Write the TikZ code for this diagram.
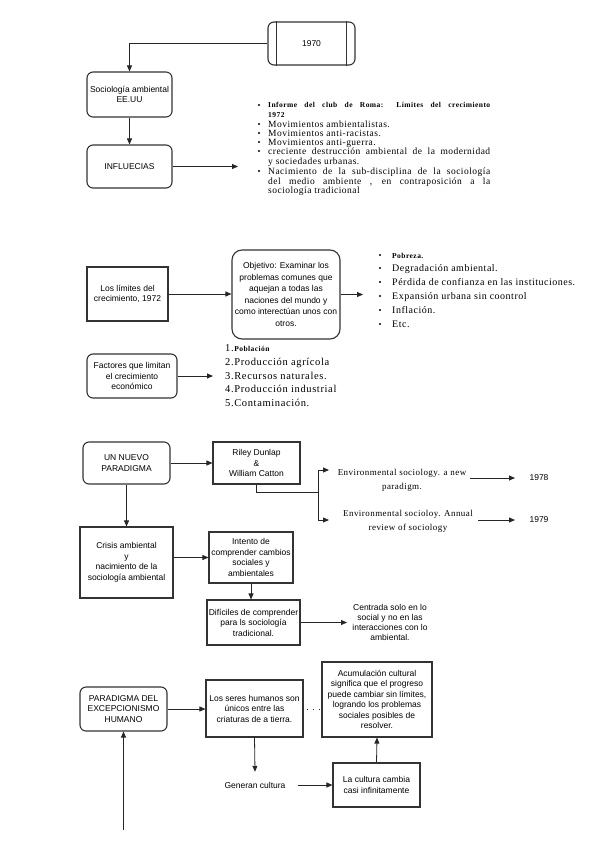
\documentclass[tikz,border=0pt]{standalone}
\usepackage{fontspec}
\setmainfont{Liberation Serif}
\setsansfont{Liberation Sans}
\newfontfamily\lsf[LetterSpace=5]{Liberation Serif}
\newfontfamily\lsfb[LetterSpace=6]{Liberation Serif}
\usetikzlibrary{arrows.meta}
\begin{document}
\begin{tikzpicture}[x=1pt,y=-1pt,
  box/.style={draw=black!80, line width=1.1pt, font=\sffamily\fontsize{8.5}{10.5}\selectfont, align=center, inner sep=1pt},
  rbox/.style={box, rounded corners=6pt},
  arr/.style={-{Triangle[length=6pt,width=5pt]}, line width=0.8pt, draw=black!85},
  ln/.style={line width=0.8pt, draw=black!85},
  itm/.style={anchor=base west, inner sep=0pt, font=\lsf\fontsize{9.5}{11}\selectfont},
  itmb/.style={anchor=base west, inner sep=0pt, font=\lsfb\bfseries\fontsize{7.5}{9}\selectfont},
  itm2/.style={anchor=base west, inner sep=0pt, font=\lsf\fontsize{10}{12}\selectfont},
  itm3/.style={anchor=base west, inner sep=0pt, font=\lsfb\fontsize{10.5}{12}\selectfont},
  plain/.style={inner sep=0pt, align=center, font=\sffamily\fontsize{8.5}{10.5}\selectfont},
  envt/.style={inner sep=0pt, align=center, font=\lsf\fontsize{9}{14}\selectfont},
  bul/.style={fill=black}
]
\useasboundingbox (0,0) rectangle (599,848);

% ---------- top block ----------
\node[rbox, minimum width=87pt, minimum height=43pt] (y1970) at (311.5,43.5) {1970};
\draw[line width=1.1pt, draw=black!80] ([xshift=9pt]y1970.north west) -- ([xshift=9pt]y1970.south west);
\draw[line width=1.1pt, draw=black!80] ([xshift=-9pt]y1970.north east) -- ([xshift=-9pt]y1970.south east);
\node[rbox, minimum width=85pt, minimum height=45pt] (soc) at (129.5,94.5) {Sociología ambiental\\EE.UU};
\node[rbox, minimum width=85pt, minimum height=43pt] (inf) at (129.5,166.5) {INFLUECIAS};
\coordinate (c1) at (238,166.5);
\draw[arr] (y1970.west) -| (soc.north);
\draw[arr] (soc.south) -- (inf.north);
\draw[arr] (inf.east) -- (c1);

% list 1
\foreach \yy in {105,124,133,142,151,171} \fill[bul] (259,\yy) circle (1.1);
\node[itmb] (l1a) at (268,107.5) {\makebox[222pt][s]{Informe del club de Roma: Límites del crecimiento}};
\node[itmb] (l1b) at (268,117.5) {1972};
\node[itm] (l1c) at (268,127.5) {Movimientos ambientalistas.};
\node[itm] (l1d) at (268,136.5) {Movimientos anti-racistas.};
\node[itm] (l1e) at (268,145.5) {Movimientos anti-guerra.};
\node[itm] (l1f) at (268,154.5) {\makebox[222pt][s]{creciente destrucción ambiental de la modernidad}};
\node[itm] (l1g) at (268,164.5) {y sociedades urbanas.};
\node[itm] (l1h) at (268,174.5) {\makebox[222pt][s]{Nacimiento de la sub-disciplina de la sociología}};
\node[itm] (l1i) at (268,184.5) {\makebox[222pt][s]{del medio ambiente , en contraposición a la}};
\node[itm] (l1j) at (268,193.5) {sociología tradicional};

% ---------- limites block ----------
\node[box, minimum width=81pt, minimum height=54pt] (lim) at (127.5,294) {Los límites del\\crecimiento, 1972};
\node[box, rounded corners=10pt, minimum width=108pt, minimum height=89pt, font=\sffamily\fontsize{8.5}{11.6}\selectfont] (obj) at (286,294.5)
  {Objetivo: Examinar los\\problemas comunes que\\aquejan a todas las\\naciones del mundo y\\como interectúan unos con\\otros.};
\coordinate (c2) at (363,294.5);
\draw[arr] (lim.east) -- (obj.west |- lim.east);
\draw[arr] (obj.east) -- (c2);

\foreach \yy in {255,268,282,296,310,324} \fill[bul] (380,\yy) circle (1.1);
\node[itmb] (l2a) at (392,258) {Pobreza.};
\node[itm2] (l2b) at (392,271.5) {Degradación ambiental.};
\node[itm2] (l2c) at (392,285.5) {Pérdida de confianza en las instituciones.};
\node[itm2] (l2d) at (392,299.5) {Expansión urbana sin coontrol};
\node[itm2] (l2e) at (392,313.5) {Inflación.};
\node[itm2] (l2f) at (392,327.5) {Etc.};

% ---------- factores block ----------
\node[rbox, minimum width=90pt, minimum height=44pt] (fac) at (132,376) {Factores que limitan\\el crecimiento\\económico};
\coordinate (c3) at (213,376);
\draw[arr] (fac.east) -- (c3);
\node[itm3] (n1) at (225,351.5) {1.\textbf{\fontsize{7.5}{9}\selectfont Población}};
\node[itm3] (n2) at (225,365.5) {2.Producción agrícola};
\node[itm3] (n3) at (225,379.5) {3.Recursos naturales.};
\node[itm3] (n4) at (225,392.5) {4.Producción industrial};
\node[itm3] (n5) at (225,406.5) {5.Contaminación.};

% ---------- nuevo paradigma ----------
\node[rbox, minimum width=87pt, minimum height=42pt] (nuevo) at (126.5,463) {UN NUEVO\\PARADIGMA};
\node[box, minimum width=87pt, minimum height=42pt] (riley) at (256.5,463) {Riley Dunlap\\\&\\William Catton};
\draw[arr] (nuevo.east) -- (riley.west);
\coordinate (j1) at (318,492);
\coordinate (j2) at (318,470);
\coordinate (j3) at (318,520);
\coordinate (e1) at (329,470);
\coordinate (e2) at (329,520);
\draw[ln] (riley.south) |- (j1);
\draw[ln] (j2) -- (j3);
\draw[arr] (j2) -- (e1);
\draw[arr] (j3) -- (e2);
\node[envt] (env1) at (402,480) {Environmental sociology. a new\\paradigm.};
\node[envt] (env2) at (408,521.5) {Environmental socioloy. Annual\\review of sociology};
\node[plain] (y1978) at (539,478) {1978};
\node[plain] (y1979) at (539,520) {1979};
\coordinate (a1) at (470,478);
\coordinate (a2) at (478,520);
\draw[arr] (a1) -- (y1978.west -| 515,0);
\draw[arr] (a2) -- (y1979.west -| 515,0);

\node[box, minimum width=93pt, minimum height=71pt] (crisis) at (126.5,562.5) {Crisis ambiental\\y\\nacimiento de la\\sociología ambiental};
\node[box, minimum width=84pt, minimum height=51pt] (intento) at (251,557.5) {Intento de\\comprender cambios\\sociales y\\ambientales};
\node[box, minimum width=93pt, minimum height=45pt] (difi) at (253.5,622.5) {Difíciles de comprender\\para ls sociología\\tradicional.};
\node[plain, font=\sffamily\fontsize{8.5}{10}\selectfont] (centr) at (390,622) {Centrada solo en lo\\social y no en las\\interacciones con lo\\ambiental.};
\coordinate (c4) at (347,622.5);
\draw[arr] (nuevo.south) -- (crisis.north);
\draw[arr] (crisis.east |- intento.west) -- (intento.west);
\draw[arr] (intento.south) -- (intento.south |- difi.north);
\draw[arr] (difi.east) -- (c4);

% ---------- excepcionismo ----------
\node[rbox, minimum width=87pt, minimum height=44pt] (para) at (123.5,709) {PARADIGMA DEL\\EXCEPCIONISMO\\HUMANO};
\node[box, minimum width=97pt, minimum height=57pt] (seres) at (254.5,708.5) {Los seres humanos son\\únicos entre las\\criaturas de a tierra.};
\node[box, minimum width=110pt, minimum height=75pt] (acum) at (377,699.5) {Acumulación cultural\\significa que el progreso\\puede cambiar sin límites,\\logrando los problemas\\sociales posibles de\\resolver.};
\node[plain, minimum height=26pt, inner xsep=4pt] (gen) at (255,785) {Generan cultura};
\node[box, minimum width=87pt, minimum height=44pt] (cult) at (376.5,785) {La cultura cambia\\casi infinitamente};
\coordinate (bot) at (123.5,830);
\draw[arr] (para.east) -- (para.east -| seres.west);
\draw[line width=1pt, draw=black!85, dash pattern=on 1pt off 5pt] ([xshift=3pt]seres.east |- para.east) -- (acum.west |- para.east);
\draw[arr] (seres.south) -- (gen.north);
\draw[arr] ([xshift=8pt]gen.east) -- (cult.west);
\draw[arr] (cult.north) -- (acum.south);
\draw[arr] (bot) -- (para.south);
\end{tikzpicture}
\end{document}
